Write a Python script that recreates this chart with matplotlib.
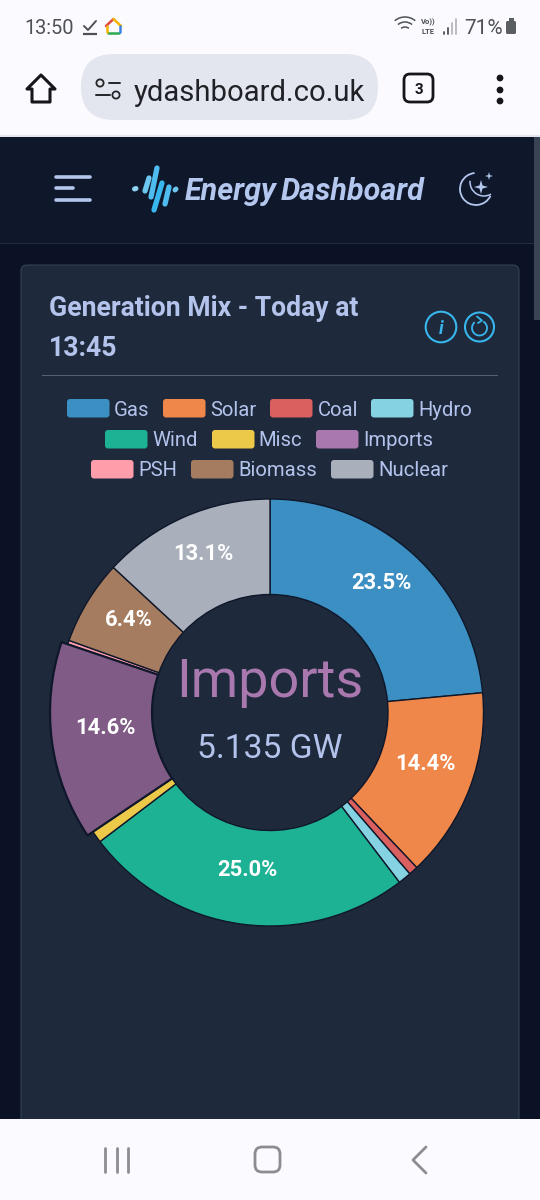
import numpy as np
import matplotlib
matplotlib.use("Agg")
import matplotlib.pyplot as plt
from matplotlib.patches import Rectangle, FancyBboxPatch, Circle, Polygon, Arc

plt.rcParams['font.family'] = ['Roboto', 'DejaVu Sans']

# ---- data ----
categories = ["Gas", "Solar", "Coal", "Hydro", "Wind", "Misc", "Imports", "PSH", "Biomass", "Nuclear"]
shares = [23.5, 14.4, 0.7, 1.0, 25.0, 0.9, 14.6, 0.3, 6.4, 13.1]
colors = ["#3c8fc2", "#f0874a", "#d9605f", "#85d3e2", "#1eb295", "#edc94a", "#a878ae", "#ff9dab", "#a67c60", "#a9afbb"]
highlight_name = "Imports"
highlight_color = "#7f5b85"
highlight_value = "5.135 GW"
title_lines = ["Generation Mix - Today at", "13:45"]

# ---- layout ----
legend_rows = [[0, 1, 2, 3], [4, 5, 6], [7, 8, 9]]
legend_row_y = [408, 439, 469]
legend_swatch_x = [67, 163, 270, 371, 105, 212, 316, 91, 191, 331]
legend_text_x = [114, 210, 317.5, 418.5, 152.5, 258.5, 363.5, 138.5, 238.5, 378.5]
TXT = "#b4c3ec"
CARD = "#1e293b"
EDGE = "#0f172a"
CYAN = "#38b6ee"

fig = plt.figure(figsize=(5.4, 12), dpi=100, facecolor="#0b1226")
ax = fig.add_axes([0, 0, 1, 1])
ax.axis("off")


def Y(p):
    return 1200 - np.asarray(p, dtype=float)


def rect(x0, y0, x1, y1, c, z=1, **k):
    ax.add_patch(Rectangle((x0, Y(y1)), x1 - x0, y1 - y0, fc=c, ec="none", zorder=z, **k))


def rrect(x0, y0, x1, y1, r, fc, ec="none", lw=0, z=2):
    ax.add_patch(FancyBboxPatch((x0 + r, Y(y1) + r), x1 - x0 - 2 * r, y1 - y0 - 2 * r,
                                boxstyle=f"round,pad={r},rounding_size={r}", fc=fc, ec=ec, lw=lw, zorder=z))


def line(xs, ys, c, lw, z=5, cap="round"):
    ax.plot(xs, Y(ys), color=c, lw=lw, solid_capstyle=cap, solid_joinstyle="round", zorder=z)


def text(x, y, s, size, c, ha="left", **k):
    ax.text(x, Y(y), s, fontsize=size, color=c, ha=ha, va="center_baseline", zorder=8, **k)


def sparkle(x, y, r, c):
    k = r * 0.22
    ax.add_patch(Polygon(np.c_[[x, x + k, x + r, x + k, x, x - k, x - r, x - k],
                               Y([y - r, y - k, y, y + k, y + r, y + k, y, y - k])],
                         closed=True, fc=c, ec="none", zorder=6))


# ---- page blocks ----
rect(0, 0, 540, 135, "#fafaff", 1)
rect(0, 135, 540, 137, "#e6e7ee", 1)
rect(0, 137, 540, 243, "#0f172a", 1)
rect(0, 243, 540, 244, "#232d42", 1)
rect(0, 1119, 540, 1200, "#fafaff", 6)
rect(534, 137, 540, 320, "#3a4354", 3)
rrect(21, 265, 519, 1135, 6, CARD, "#334155", 0.8, 2)

# ---- status bar ----
text(24, 26, "13:50", 14.4, "#4e5156")
line([84, 88, 96], [26, 30, 21], "#4e5156", 1.4)
line([83, 97], [34, 34], "#4e5156", 1.6, cap="butt")
line([106, 113.5], [26, 19], "#e5483d", 1.8)
line([113.5, 121], [19, 26], "#f4b400", 1.8)
line([108, 119], [32.5, 32.5], "#2fa84f", 1.8)
line([107, 107], [26, 32], "#f4b400", 1.8)
line([120, 120], [26, 32], "#3b82e6", 1.8)
for r_ in (6, 11, 16):
    ax.add_patch(Arc((405, Y(33)), 2 * r_, 2 * r_, theta1=50, theta2=130, color="#4e5156", lw=1.1, zorder=5))
text(428.5, 21.5, "Vo))", 5.5, "#4e5156", ha="center", fontweight="bold")
text(428.5, 30.5, "LTE", 5.5, "#4e5156", ha="center", fontweight="bold")
line([444, 444], [32, 34], "#4e5156", 1.3)
line([448, 448], [28, 34], "#4e5156", 1.3)
line([452, 452], [23, 34], "#b5b7bb", 1.3)
line([456, 456], [19, 34], "#b5b7bb", 1.3)
text(464, 26, "71%", 15, "#4e5156")
rrect(506, 21, 516, 34, 1.5, "#5a5d62", z=5)
rect(508.5, 18, 513.5, 21, "#5a5d62", 5)

# ---- browser bar ----
ax.add_patch(Polygon(np.c_[[27, 41, 55, 50, 50, 32, 32], Y([89, 75, 89, 89, 102, 102, 89])],
                     closed=True, fc="none", ec="#15161a", lw=2.2, joinstyle="round", zorder=5))
rrect(81, 54, 378, 120, 33, "#e3e6ee", z=2)
ax.add_patch(Circle((100, Y(83)), 3.6, fc="none", ec="#23252a", lw=1.3, zorder=5))
ax.add_patch(Circle((116, Y(95)), 3.6, fc="none", ec="#23252a", lw=1.3, zorder=5))
line([109, 120], [83, 83], "#23252a", 1.4)
line([96, 110], [95, 95], "#23252a", 1.4)
text(134, 90, "ydashboard.co.uk", 21.1, "#1f2126")
rrect(404, 74, 433, 102, 6, "none", "#15161a", 2, 5)
text(418.5, 88, "3", 11, "#15161a", ha="center", fontweight="bold")
for yy in (78, 90, 101):
    ax.add_patch(Circle((500, Y(yy)), 3.4, fc="#15161a", ec="none", zorder=5))

# ---- app header ----
line([56, 90], [177, 177], "#b4c7ee", 2.6)
line([56, 73], [188, 188], "#b4c7ee", 2.6)
line([56, 90], [200, 200], "#b4c7ee", 2.6)
line([134.5, 136], [189, 188.5], "#8fd4f2", 3.6)
line([145, 149], [191, 178], "#6cc6f0", 3.8)
line([151, 157], [197, 168], "#4fbcf0", 3.8)
line([154, 162], [210, 183], "#38b6ee", 3.8)
line([165, 169], [204, 187], "#4fbcf0", 3.8)
line([175, 176], [190, 189], "#6cc6f0", 3.6)
text(185, 188, "Energy", 22, "#b4c7ee", fontweight="bold", fontstyle="italic")
text(281, 188, "Dashboard", 22, "#b4c7ee", fontweight="bold", fontstyle="italic")
ax.add_patch(Arc((476, Y(189)), 32, 32, theta1=95, theta2=335, color="#b4c7ee", lw=1.3, zorder=5))
ax.add_patch(Arc((484, Y(182)), 28, 28, theta1=175, theta2=300, color="#b4c7ee", lw=1.1, zorder=5))
sparkle(481, 187, 7, "#b4c7ee")
sparkle(489, 176, 4, "#b4c7ee")

# ---- card header ----
text(49, 306, title_lines[0], 19.2, TXT, fontweight="bold")
text(49, 346, title_lines[1], 19.2, TXT, fontweight="bold")
ax.add_patch(Circle((441, Y(327)), 15.3, fc="none", ec=CYAN, lw=1.5, zorder=5))
text(441, 327, "i", 13, CYAN, ha="center", fontweight="bold", fontstyle="italic")
ax.add_patch(Circle((479.5, Y(327)), 14.5, fc="none", ec=CYAN, lw=1.5, zorder=5))
ax.add_patch(Arc((479.5, Y(328)), 15, 15, theta1=-230, theta2=60, color=CYAN, lw=1.3, zorder=5))
line([477, 482, 478], [316.5, 320.5, 323], CYAN, 1.3)
rect(42, 374.5, 498, 375.7, "#566173", 3)

# ---- legend ----
for row, ypos in zip(legend_rows, legend_row_y):
    for i in row:
        rrect(legend_swatch_x[i], ypos - 9, legend_swatch_x[i] + 42.5, ypos + 9.5, 3, colors[i], z=4)
        text(legend_text_x[i], ypos, categories[i], 14.6, TXT)

# ---- doughnut ----
R_OUT, R_IN, CX, CY = 213.5, 118, 270, 712.5
wedges, _ = ax.pie(shares, colors=colors, startangle=90, counterclock=False,
                   center=(CX, float(Y(CY))), radius=R_OUT, frame=True,
                   wedgeprops=dict(width=R_OUT - R_IN, edgecolor=EDGE, linewidth=1.0, zorder=4))
total = sum(shares)
cum = 0.0
for w, name, val in zip(wedges, categories, shares):
    if name == highlight_name:
        w.set_radius(220)
        w.set_width(220 - R_IN)
        w.set_facecolor(highlight_color)
        w.set_linewidth(1.6)
        w.set_zorder(4.5)
    mid = np.deg2rad((cum + val / 2) / total * 360)
    cum += val
    if val >= 5:
        r_mid = (R_OUT + R_IN) / 2
        ax.text(CX + r_mid * np.sin(mid), Y(CY - r_mid * np.cos(mid) - 6.5), f"{val:.1f}%",
                fontsize=15.8, color="white", fontweight="bold", ha="center", va="center", zorder=8)

hi = categories.index(highlight_name)
text(270, 677, highlight_name, 39, colors[hi], ha="center")
text(270, 745, highlight_value, 24.2, TXT, ha="center")

# ---- nav bar ----
for xx in (105, 116.5, 127.5):
    line([xx, xx], [1148, 1172], "#8c8d91", 2, z=7)
rrect(255, 1147, 280, 1172, 7, "none", "#8c8d91", 2, 7)
line([426, 413, 426], [1147, 1160, 1173], "#8c8d91", 2, z=7)

ax.set_xlim(0, 540)
ax.set_ylim(0, 1200)
ax.set_aspect("auto")
fig.savefig("out.png", dpi=100, facecolor=fig.get_facecolor())
